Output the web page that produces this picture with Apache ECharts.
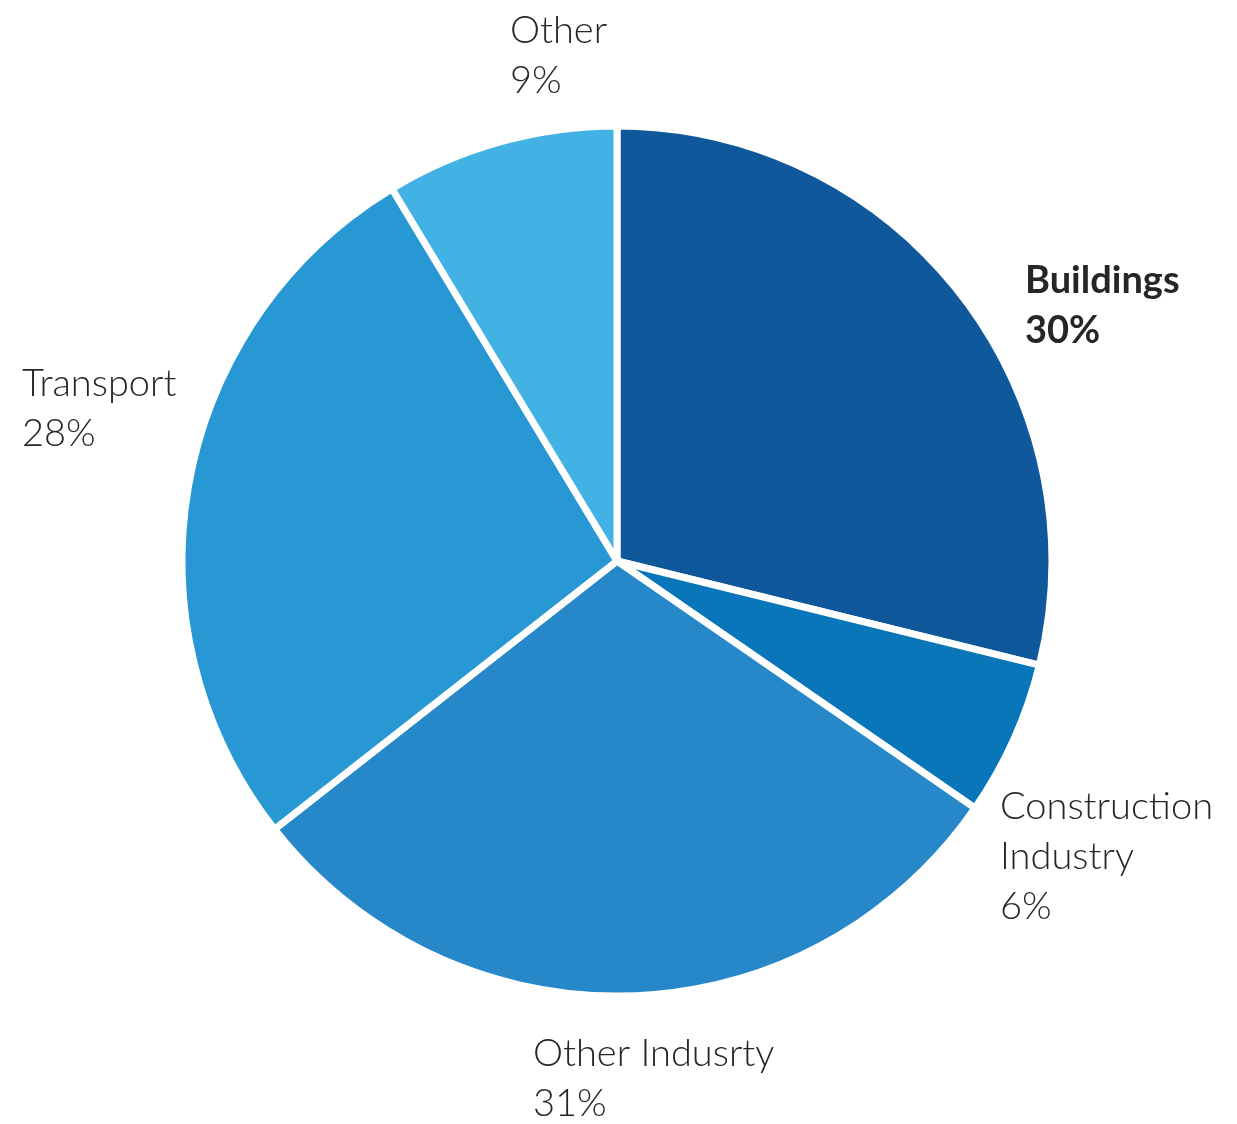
<!DOCTYPE html>
<html>
<head>
<meta charset="utf-8">
<title>Energy-related emissions by sector</title>
<script src="https://cdn.jsdelivr.net/npm/echarts@6/dist/echarts.min.js"></script>
<style>
  html, body { margin: 0; padding: 0; background: #ffffff; }
  #chart { width: 1237px; height: 1124px; }
</style>
</head>
<body>
<div id="chart"></div>
<script>
// Sector shares (percent), clockwise from 12 o'clock
const categories = ['Buildings', 'Construction Industry', 'Other Indusrty', 'Transport', 'Other'];
const shares = [30, 6, 31, 28, 9];
const sliceColors = ['#0f589b', '#0a76ba', '#2688c8', '#2898d5', '#42b2e5'];

// Where each label block sits (left edge, vertical middle)
const labelAnchors = [
  [1025, 306],
  [1000, 857],
  [533, 1079],
  [22, 409],
  [510, 56]
];

const chart = echarts.init(document.getElementById('chart'), null, { renderer: 'canvas' });

chart.setOption({
  animation: false,
  backgroundColor: '#ffffff',
  series: [{
    type: 'pie',
    center: [617, 561],
    radius: [0, 435],
    startAngle: 90,
    clockwise: true,
    emphasis: { disabled: true },
    itemStyle: { borderColor: '#ffffff', borderWidth: 7, borderJoin: 'round' },
    labelLine: { show: false },
    label: {
      show: true,
      position: 'outside',
      alignTo: 'none',
      overflow: 'none',
      align: 'left',
      fontFamily: 'Lato, "Open Sans", sans-serif',
      fontSize: 38,
      fontWeight: 300,
      lineHeight: 50,
      color: '#262626',
      formatter: p => (p.name === 'Construction Industry' ? p.name.replace(' ', '\n') : p.name) + '\n' + p.value + '%'
    },
    labelLayout: p => ({
      x: labelAnchors[p.dataIndex][0],
      y: labelAnchors[p.dataIndex][1],
      align: 'left',
      verticalAlign: 'middle',
      width: 400
    }),
    data: categories.map((name, i) => ({
      name: name,
      value: shares[i],
      itemStyle: { color: sliceColors[i] },
      label: name === 'Buildings' ? { fontWeight: 'bold' } : {}
    }))
  }]
});
</script>
</body>
</html>
